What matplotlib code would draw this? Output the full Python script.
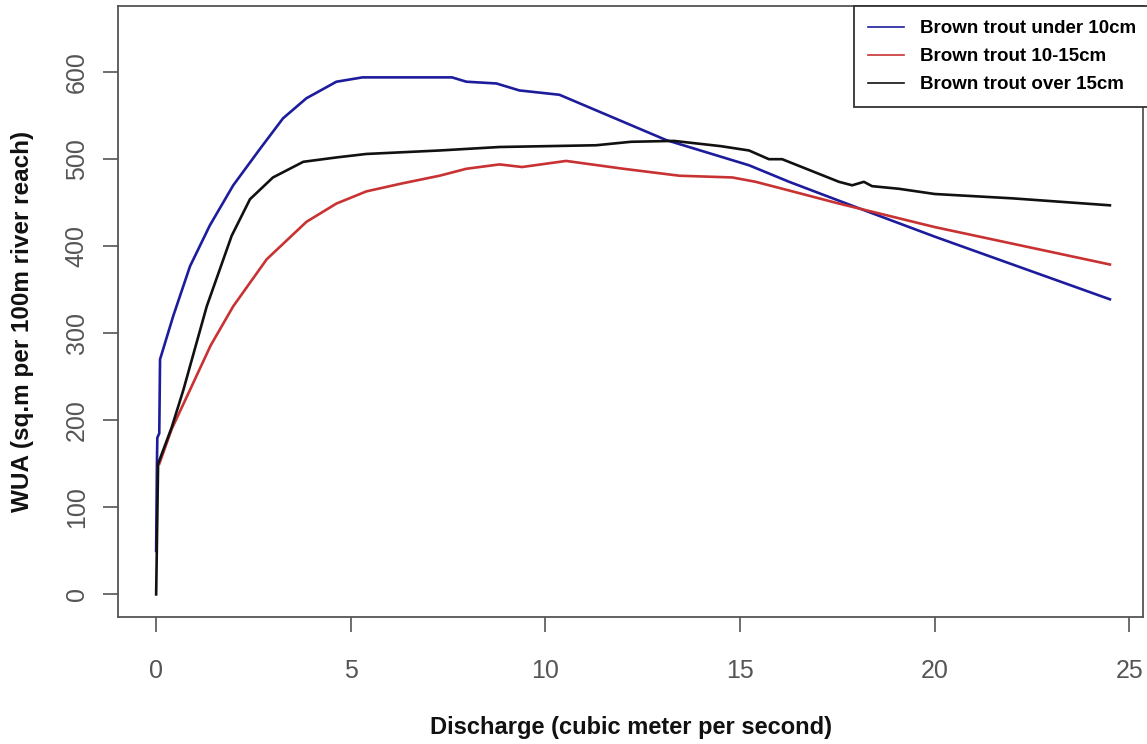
import matplotlib
matplotlib.use("Agg")
import matplotlib.pyplot as plt
from matplotlib import font_manager

# WUA curves for three size classes of brown trout
x_small = [0.0, 0.02, 0.03, 0.08, 0.1, 0.44, 0.87, 1.38, 1.98, 2.67, 3.26, 3.86, 4.63,
           5.3, 7.6, 7.97, 8.74, 9.33, 10.36, 13.1, 15.23, 16.26, 17.97, 20.0, 24.5]
y_small = [50, 150, 180, 185, 270, 320, 377, 424, 470, 512, 547, 570, 589,
           594, 594, 589, 587, 579, 574, 522, 493, 474, 445, 411, 339]

x_mid = [0.08, 0.4, 0.87, 1.4, 1.98, 2.84, 3.86, 4.63, 5.4, 6.3, 7.28, 7.97, 8.82,
         9.4, 10.53, 12.0, 13.44, 14.8, 15.4, 16.26, 17.54, 20.0, 24.5]
y_mid = [150, 190, 235, 286, 331, 385, 428, 449, 463, 472, 481, 489, 494,
         491, 498, 489, 481, 479, 474, 464, 449, 422, 379]

x_large = [0.0, 0.05, 0.4, 0.7, 1.3, 1.94, 2.41, 3.0, 3.78, 4.63, 5.4, 7.28, 8.82,
           11.3, 12.2, 13.3, 14.5, 15.23, 15.74, 16.08, 17.54, 17.88, 18.18, 18.39,
           19.08, 20.0, 22.0, 24.5]
y_large = [0, 150, 192, 235, 331, 412, 454, 479, 497, 502, 506, 510, 514,
           516, 520, 521, 515, 510, 500, 500, 474, 470, 474, 469,
           466, 460, 455, 447]

labels = ["Brown trout under 10cm", "Brown trout 10-15cm", "Brown trout over 15cm"]
colors = ["#1c1c9c", "#c83232", "#111111"]

names = {f.name for f in font_manager.fontManager.ttflist}
narrow = "Liberation Sans Narrow" if "Liberation Sans Narrow" in names else "Liberation Sans"

fig = plt.figure(figsize=(11.47, 7.44), dpi=100)
ax = fig.add_axes([118 / 1147, (744 - 617) / 744, (1143 - 118) / 1147, (617 - 6) / 744])

ax.plot(x_small, y_small, color=colors[0], lw=1.9, label=labels[0])
ax.plot(x_mid, y_mid, color=colors[1], lw=1.9, label=labels[1])
ax.plot(x_large, y_large, color=colors[2], lw=1.9, label=labels[2])

ax.set_xlim(-0.98, 25.35)
ax.set_ylim(-26, 676)
ax.set_xticks([0, 5, 10, 15, 20, 25])
ax.set_yticks([0, 100, 200, 300, 400, 500, 600])

for s in ax.spines.values():
    s.set_color("#555555")
    s.set_linewidth(1.3)
ax.tick_params(direction="out", length=11, width=1.2, color="#555555",
               labelcolor="#555555", labelsize=18)
ax.tick_params(axis="x", pad=19)
ax.tick_params(axis="y", pad=10)
for t in ax.get_xticklabels():
    t.set_family(narrow)
for t in ax.get_yticklabels():
    t.set_family(narrow)
    t.set_rotation(90)
    t.set_va("center")

ax.set_xlabel("Discharge (cubic meter per second)", fontsize=17, fontweight="bold",
              family="Liberation Sans", color="#111111", labelpad=24)
ax.set_ylabel("WUA (sq.m per 100m river reach)", fontsize=17.5, fontweight="bold",
              family="Liberation Sans", color="#111111")
ax.yaxis.set_label_coords(-0.082, 0.483)

leg = ax.legend(loc="upper right", bbox_to_anchor=(1.007, 1.0), borderaxespad=0,
                fancybox=False, edgecolor="#333333", framealpha=1,
                prop={"family": "Liberation Sans", "weight": "bold", "size": 13.5},
                handlelength=1.9, handletextpad=0.85, labelspacing=0.58,
                borderpad=0.75)
leg.get_frame().set_linewidth(1.3)
for line in leg.get_lines():
    line.set_linewidth(1.2)

fig.savefig("out.png", dpi=100)
